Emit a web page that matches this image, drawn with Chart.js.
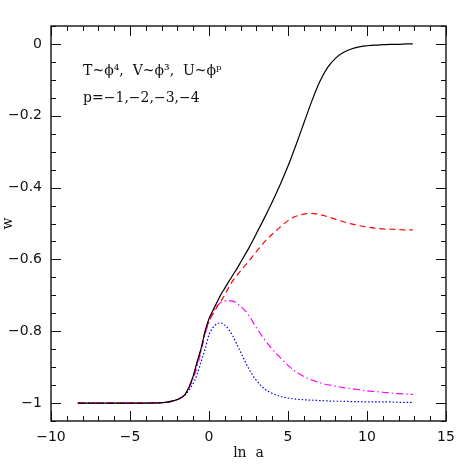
<!DOCTYPE html>
<html>
<head>
<meta charset="utf-8">
<script src="https://cdn.jsdelivr.net/npm/chart.js@4/dist/chart.umd.min.js"></script>
<style>
html,body{margin:0;padding:0;background:#fff;}
#wrap{width:471px;height:471px;}
</style>
</head>
<body>
<div id="wrap"><canvas id="c" width="471" height="471"></canvas></div>
<script>
// ---- data ----
const lnA = [-8.3,-7,-6,-5,-4,-3,-2.5,-2,-1.5,-1,-0.75,-0.5,-0.25,0,0.25,0.5,0.75,1,1.25,1.5,1.75,2,2.5,3,3.5,4,4.5,5,5.5,6,6.5,7,7.5,8,8.5,9,9.5,10,10.5,11,11.5,12,12.5,12.9];
const wP1 = [-1,-1,-1,-1,-1,-0.999,-0.996,-0.99,-0.975,-0.925,-0.885,-0.848,-0.80,-0.765,-0.742,-0.72,-0.698,-0.68,-0.662,-0.644,-0.627,-0.608,-0.57,-0.528,-0.485,-0.44,-0.392,-0.340,-0.282,-0.221,-0.16,-0.106,-0.066,-0.04,-0.024,-0.014,-0.008,-0.005,-0.003,-0.002,-0.001,-0.001,0,0];
const wP2 = [-1,-1,-1,-1,-1,-0.999,-0.996,-0.99,-0.975,-0.926,-0.887,-0.85,-0.805,-0.772,-0.752,-0.733,-0.716,-0.699,-0.678,-0.66,-0.646,-0.632,-0.606,-0.578,-0.552,-0.53,-0.51,-0.492,-0.48,-0.474,-0.472,-0.475,-0.481,-0.488,-0.495,-0.501,-0.506,-0.51,-0.513,-0.515,-0.516,-0.517,-0.518,-0.518];
const wP3 = [-1,-1,-1,-1,-1,-0.999,-0.996,-0.99,-0.975,-0.932,-0.898,-0.855,-0.808,-0.775,-0.748,-0.73,-0.72,-0.716,-0.715,-0.716,-0.722,-0.73,-0.755,-0.79,-0.822,-0.85,-0.873,-0.895,-0.913,-0.926,-0.936,-0.943,-0.949,-0.953,-0.957,-0.96,-0.963,-0.966,-0.968,-0.97,-0.972,-0.974,-0.975,-0.976];
const wP4 = [-1,-1,-1,-1,-1,-0.999,-0.997,-0.99,-0.977,-0.945,-0.92,-0.885,-0.85,-0.81,-0.79,-0.779,-0.777,-0.783,-0.795,-0.813,-0.835,-0.858,-0.903,-0.937,-0.96,-0.973,-0.981,-0.986,-0.989,-0.991,-0.992,-0.993,-0.994,-0.995,-0.995,-0.996,-0.996,-0.997,-0.997,-0.997,-0.997,-0.998,-0.998,-0.998];
const xTicks = [-10,-5,0,5,10,15];
const yTicks = [-1,-0.8,-0.6,-0.4,-0.2,0];
const annotLine1 = "T~\u03D5\u2074,  V~\u03D5\u00B3,  U~\u03D5\u1D56";
const annotLine2 = "p=\u22121,\u22122,\u22123,\u22124";
const xTitle = "ln  a";
const yTitle = "w";

function pts(ys){ return lnA.map((x,i)=>({x:x,y:ys[i]})); }
function fmt(v){ const r = Math.round(v*100)/100; return (r===0?"0":String(r)).replace('-','\u2212'); }

const frame = {
  id:'frame',
  afterDraw(chart){
    const ctx = chart.ctx, a = chart.chartArea;
    const xs = chart.scales.x, ys = chart.scales.y;
    ctx.save();
    ctx.strokeStyle = '#111';
    ctx.lineWidth = 1.4;
    ctx.strokeRect(a.left, a.top, a.right-a.left, a.bottom-a.top);
    ctx.lineWidth = 1;
    ctx.beginPath();
    for(let v=-10; v<=15; v++){
      const px = Math.round(xs.getPixelForValue(v))+0.5;
      const L = (v%5===0)?10:5;
      ctx.moveTo(px,a.bottom); ctx.lineTo(px,a.bottom-L);
      ctx.moveTo(px,a.top); ctx.lineTo(px,a.top+L);
    }
    for(let k=-21; k<=1; k++){
      const v = k*0.05;
      const py = Math.round(ys.getPixelForValue(v))+0.5;
      const L = (k%4===0)?10:5;
      ctx.moveTo(a.left,py); ctx.lineTo(a.left+L,py);
      ctx.moveTo(a.right,py); ctx.lineTo(a.right-L,py);
    }
    ctx.stroke();
    // annotations
    ctx.fillStyle = '#111';
    ctx.font = '14px "DejaVu Serif"';
    ctx.textBaseline = 'middle';
    ctx.textAlign = 'left';
    ctx.fillText(annotLine1, xs.getPixelForValue(-7.97), ys.getPixelForValue(-0.075));
    ctx.fillText(annotLine2, xs.getPixelForValue(-7.97), ys.getPixelForValue(-0.152));
    // axis titles
    ctx.textAlign = 'center';
    ctx.fillText(xTitle, (a.left+a.right)/2, 453);
    ctx.save();
    ctx.translate(8,(a.top+a.bottom)/2);
    ctx.rotate(-Math.PI/2);
    ctx.fillText(yTitle,0,0);
    ctx.restore();
    ctx.restore();
  }
};

new Chart(document.getElementById('c'),{
  type:'line',
  data:{datasets:[
    {data:pts(wP1), borderColor:'#000000', borderWidth:1.2, pointRadius:0, cubicInterpolationMode:'monotone'},
    {data:pts(wP2), borderColor:'#ff0000', borderWidth:1.2, pointRadius:0, borderDash:[6,4], cubicInterpolationMode:'monotone'},
    {data:pts(wP3), borderColor:'#ff00ff', borderWidth:1.2, pointRadius:0, borderDash:[7,3,1.5,3], cubicInterpolationMode:'monotone'},
    {data:pts(wP4), borderColor:'#0000ff', borderWidth:1.2, pointRadius:0, borderDash:[1.5,2], cubicInterpolationMode:'monotone'}
  ]},
  options:{
    responsive:false, animation:false, devicePixelRatio:1,
    layout:{padding:{top:26,right:25,left:0,bottom:0}},
    plugins:{legend:{display:false},tooltip:{enabled:false}},
    scales:{
      x:{type:'linear',min:-10,max:15,
         afterBuildTicks(s){ s.ticks = xTicks.map(v=>({value:v})); },
         afterFit(s){ s.height = 50; },
         grid:{display:false,drawTicks:false}, border:{display:false},
         ticks:{padding:8,color:'#111',font:{family:'DejaVu Sans',size:14},callback:v=>fmt(v),maxRotation:0,autoSkip:false}},
      y:{type:'linear',min:-1.05,max:0.05,
         afterBuildTicks(s){ s.ticks = yTicks.map(v=>({value:v})); },
         afterFit(s){ s.width = 51; },
         grid:{display:false,drawTicks:false}, border:{display:false},
         ticks:{padding:9,color:'#111',font:{family:'DejaVu Sans',size:14},callback:v=>fmt(v),autoSkip:false}}
    }
  },
  plugins:[frame]
});
</script>
</body>
</html>
